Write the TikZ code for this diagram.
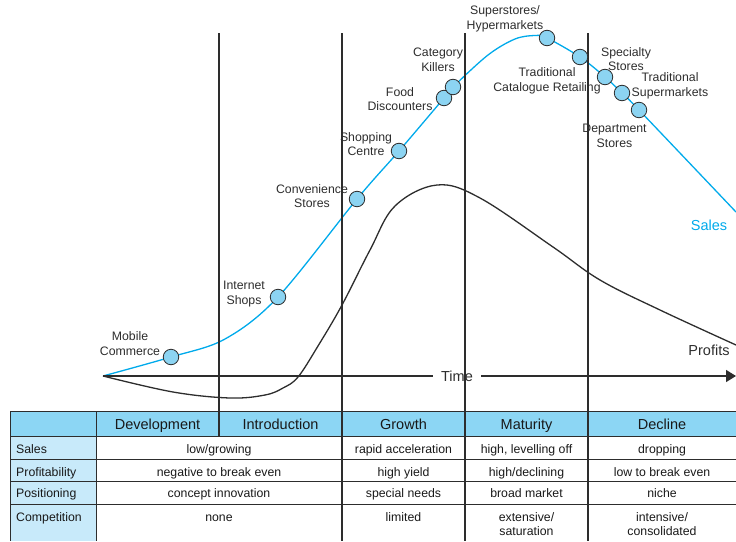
\documentclass[tikz,border=0pt]{standalone}
\usepackage{fontspec}
\setmainfont{Liberation Sans}
\usepackage{tikz}
\usetikzlibrary{arrows.meta, backgrounds}
\definecolor{salesblue}{RGB}{0,170,235}
\definecolor{dotblue}{RGB}{140,212,242}
\definecolor{headblue}{RGB}{140,214,244}
\definecolor{rowblue}{RGB}{200,234,250}
\definecolor{inkgray}{RGB}{45,45,45}

% two lines in one table cell, baseline on the first line
\newcommand{\stackedcell}[2]{\begin{tabular}[t]{@{}c@{}}#1\\#2\end{tabular}}

\tikzset{
  outlet/.style={circle, draw=inkgray, fill=dotblue, line width=0.8pt, minimum size=15.5pt, inner sep=0pt},
  storelabel/.style={align=center, inner sep=0pt, text=inkgray, font=\fontsize{12.3}{14.5}\selectfont},
  phaseline/.style={draw=inkgray, line width=1.5pt},
  gridline/.style={draw=inkgray, line width=0.9pt},
  cell/.style={anchor=base, inner sep=0pt, text=black!90, font=\fontsize{12.3}{14.5}\selectfont},
  headcell/.style={cell, font=\fontsize{14.5}{17}\selectfont},
  bigtext/.style={inner sep=0pt, font=\fontsize{14.5}{17}\selectfont},
}

\begin{document}
\begin{tikzpicture}[x=1pt, y=-1pt]
    \useasboundingbox (0,0) rectangle (736,541);

    % table
    \fill[headblue] (10,411) rectangle (736,436);
    \fill[rowblue] (10,436) rectangle (96,541);
    \foreach \y in {411,436,459,481,504} {
        \draw[gridline] (10,\y) -- (736,\y);
    }
    \draw[gridline] (10,411) -- (10,541);
    \draw[gridline] (96,411) -- (96,541);

    \node[headcell] (development) at (157.5,429) {Development};
    \node[headcell] (introduction) at (280.5,429) {Introduction};
    \node[headcell] (growth) at (403.5,429) {Growth};
    \node[headcell] (maturity) at (526.5,429) {Maturity};
    \node[headcell] (decline) at (662,429) {Decline};

    \foreach \y/\name/\a/\b/\c/\d in {
        453/Sales/{low/growing}/rapid acceleration/{high, levelling off}/dropping,
        476/Profitability/negative to break even/high yield/{high/declining}/low to break even,
        497/Positioning/concept innovation/special needs/broad market/niche,
        521/Competition/none/limited/{\stackedcell{extensive/}{saturation}}/{\stackedcell{intensive/}{consolidated}}} {
        \node[cell, anchor=base west] (row-\name) at (16,\y) {\name};
        \node[cell] at (219,\y) {\a};
        \node[cell] at (403.5,\y) {\b};
        \node[cell] at (526.5,\y) {\c};
        \node[cell] at (662,\y) {\d};
    }

    % time axis
    \coordinate (origin) at (103,376);
    \coordinate (axisend) at (736,376);
    \draw[line width=1.5pt, draw=inkgray, -{Triangle[length=10pt, width=12pt]}] (origin) -- (axisend);
    \node[bigtext, fill=white, inner xsep=8pt, inner ysep=1pt, text=inkgray] (time) at (457,376) {Time};

    % phase boundaries
    \draw[phaseline] (219,33) -- (219,436);
    \foreach \x in {342,465,588} {
        \draw[phaseline] (\x,33) -- (\x,541);
    }

    % retail formats on the sales curve
    \node[outlet] (mobile) at (171,357) {};
    \node[outlet] (internet) at (278,297) {};
    \node[outlet] (convenience) at (357,199) {};
    \node[outlet] (shopping) at (399,151) {};
    \node[outlet] (food) at (444,98) {};
    \node[outlet] (killers) at (453,87) {};
    \node[outlet] (superstores) at (547,38) {};
    \node[outlet] (catalogue) at (580,57) {};
    \node[outlet] (specialty) at (605,77) {};
    \node[outlet] (supermarkets) at (622,93) {};
    \node[outlet] (department) at (639,110) {};

    \node[storelabel] (mobile-lbl) at (130,343.5) {Mobile\\Commerce};
    \node[storelabel] (internet-lbl) at (244,294) {Internet\\Shops};
    \node[storelabel] (convenience-lbl) at (312,196) {Convenience\\Stores};
    \node[storelabel] (shopping-lbl) at (366,144) {Shopping\\Centre};
    \node[storelabel] (food-lbl) at (400,99) {Food\\Discounters};
    \node[storelabel] (killers-lbl) at (438,60) {Category\\Killers};
    \node[storelabel] (superstores-lbl) at (505,19) {Superstores/\\Hypermarkets};
    \node[storelabel] (catalogue-lbl) at (547,81) {Traditional\\Catalogue Retailing};
    \node[storelabel] (specialty-lbl) at (626,59) {Specialty\\Stores};
    \node[storelabel] (supermarkets-lbl) at (670,86) {Traditional\\Supermarkets};
    \node[storelabel] (department-lbl) at (614.5,136) {Department\\Stores};

    \node[bigtext, text=salesblue] (sales-lbl) at (709,225) {Sales};
    \node[bigtext, text=inkgray] (profits-lbl) at (709,350) {Profits};

    % curves
    \begin{pgfonlayer}{background}
        \draw[salesblue, line width=1.3pt] plot[smooth, tension=0.55] coordinates {
            (origin) (mobile.center) (225,339) (internet.center) (convenience.center)
            (shopping.center) (food.center) (killers.center) (488,55) (515,39)
            (535,35.5) (superstores.center) (catalogue.center) (specialty.center)
            (supermarkets.center) (department.center) (736,212)};
        \draw[inkgray, line width=1.3pt] plot[smooth, tension=0.6] coordinates {
            (origin) (173,392) (230,398) (265,395) (283,388) (298,377) (318,346)
            (342,305) (370,250) (395,206) (437,185) (480,198) (553,247)
            (600,280) (660,310) (736,345)};
    \end{pgfonlayer}
\end{tikzpicture}
\end{document}
